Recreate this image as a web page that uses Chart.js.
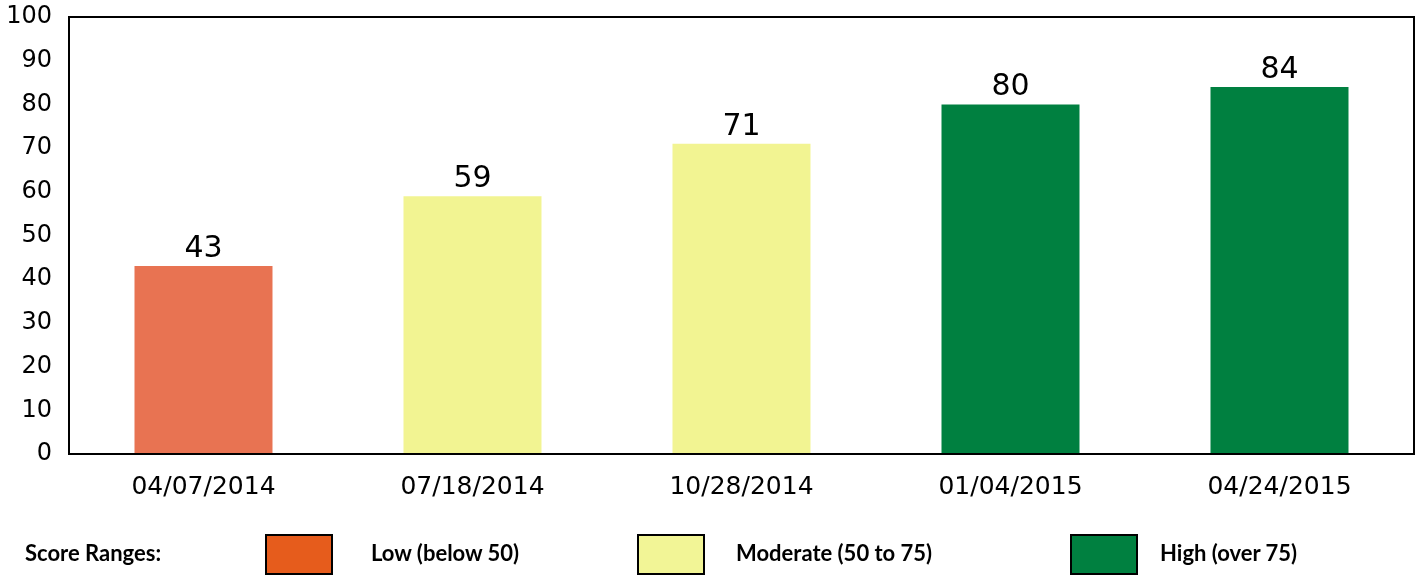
<!DOCTYPE html>
<html><head><meta charset="utf-8">
<script src="https://cdn.jsdelivr.net/npm/chart.js@4/dist/chart.umd.min.js"></script>
<style>
html,body{margin:0;padding:0;background:#fff;}
#wrap{position:relative;width:1421px;height:581px;}
#c{position:absolute;left:0;top:0;}
.lg{position:absolute;font-family:Lato,"Liberation Sans",sans-serif;font-weight:bold;font-size:22px;color:#000;line-height:26px;}
.bx{position:absolute;top:534px;width:64px;height:37px;border:2px solid #000;}
</style></head>
<body><div id="wrap"><canvas id="c" width="1421" height="581"></canvas>
<div class="lg" style="left:25px;top:540px;">Score Ranges:</div>
<div class="bx" style="left:265px;background:#E65C1C;"></div>
<div class="lg" style="left:371px;top:540px;">Low (below 50)</div>
<div class="bx" style="left:637px;background:#F2F596;"></div>
<div class="lg" style="left:736px;top:540px;">Moderate (50 to 75)</div>
<div class="bx" style="left:1070px;background:#008040;"></div>
<div class="lg" style="left:1160px;top:540px;">High (over 75)</div>
</div>
<script>
const categories = ["04/07/2014","07/18/2014","10/28/2014","01/04/2015","04/24/2015"];
const scores = [43, 59, 71, 80, 84];
const barColors = ["#E87352","#F2F492","#F2F492","#008040","#008040"];
const yTicks = [0,10,20,30,40,50,60,70,80,90,100];

const frame = {
  id:'frame',
  afterDraw(chart){
    const a = chart.chartArea, ctx = chart.ctx;
    ctx.save();
    ctx.strokeStyle = '#000';
    ctx.lineWidth = 2;
    ctx.strokeRect(a.left, a.top, a.right - a.left, a.bottom - a.top);
    ctx.restore();
  },
  afterDatasetsDraw(chart){
    const ctx = chart.ctx;
    const meta = chart.getDatasetMeta(0);
    ctx.save();
    ctx.font = '30px "DejaVu Sans"';
    ctx.fillStyle = '#000';
    ctx.textAlign = 'center';
    ctx.textBaseline = 'alphabetic';
    meta.data.forEach((b,i)=>{
      ctx.fillText(String(scores[i]), b.x, b.y - 9);
    });
    ctx.restore();
  }
};

new Chart(document.getElementById('c'), {
  type:'bar',
  data:{labels:categories, datasets:[{data:scores, backgroundColor:barColors, categoryPercentage:1, barPercentage:0.513}]},
  options:{
    responsive:false, animation:false,
    layout:{padding:{top:17,right:7,left:0,bottom:0}},
    plugins:{legend:{display:false},tooltip:{enabled:false}},
    scales:{
      x:{
        grid:{display:false, drawTicks:false}, border:{display:false},
        ticks:{color:'#000', font:{family:'"DejaVu Sans"', size:25}, padding:18, maxRotation:0},
        afterFit(s){ s.height = 127; s.paddingLeft = 0; s.paddingRight = 0; }
      },
      y:{
        min:0, max:100,
        grid:{display:false, drawTicks:false}, border:{display:false},
        afterBuildTicks(s){ s.ticks = yTicks.map(v=>({value:v})); },
        ticks:{color:'#000', font:{family:'"DejaVu Sans"', size:24}, padding:17},
        afterFit(s){ s.width = 69; s.paddingTop = 0; s.paddingBottom = 0; }
      }
    }
  },
  plugins:[frame]
});
</script></body></html>
